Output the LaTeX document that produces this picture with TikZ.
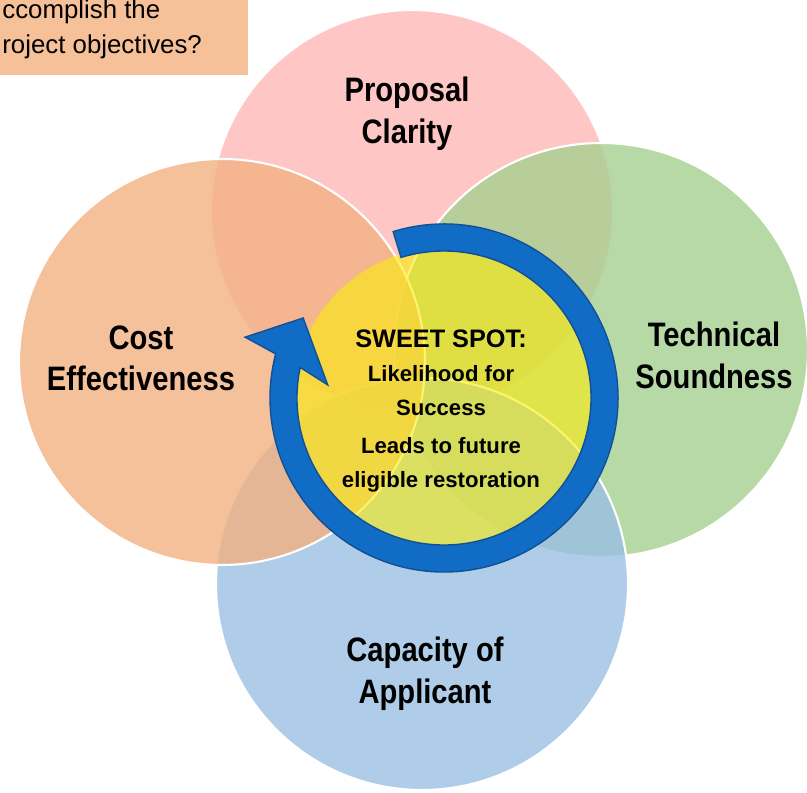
\documentclass[tikz,border=0pt]{standalone}
\usepackage{fontspec}
\setmainfont{Liberation Sans}
\newfontfamily\narrowsans{Liberation Sans}[FakeStretch=0.86]
\usepackage{tikz}
\definecolor{clarityfill}{RGB}{255,184,184}
\definecolor{techfill}{RGB}{165,207,144}
\definecolor{capacityfill}{RGB}{155,192,228}
\definecolor{costfill}{RGB}{242,177,130}
\definecolor{questionfill}{RGB}{246,192,152}
\definecolor{sweetfill}{RGB}{250,237,10}
\definecolor{cycleblue}{RGB}{16,108,196}
\definecolor{cycleedge}{RGB}{18,80,150}

\begin{document}
\begin{tikzpicture}[x=0.02cm, y=0.02cm,
    venn/.style={fill opacity=0.8, draw=white, line width=1.2pt},
    bigLabel/.style={align=center, inner sep=0pt, anchor=north,
        font=\narrowsans\bfseries\fontsize{19.3}{23.8}\selectfont}]
    \useasboundingbox (0,0) rectangle (807,793);

    % question box, cut at the left
    \fill[questionfill] (0,718) rectangle (248,793);
    \node[anchor=north west, align=left, inner sep=0pt,
          font=\fontsize{14.7}{19.9}\selectfont] (question) at (2,794)
        {ccomplish the\\roject objectives?};

    % the four circles
    \filldraw[venn, fill=clarityfill] (412,582) circle[radius=201];
    \filldraw[venn, fill=techfill] (601,443) circle[radius=207];
    \filldraw[venn, fill=capacityfill] (422,209) circle[radius=206];
    \filldraw[venn, fill=costfill] (222,431) circle[radius=203];

    % sweet spot and the cycle arrow round it
    \fill[sweetfill, fill opacity=0.6] (444,395) circle[radius=150];
    \begin{scope}[shift={(444,395)}]
        \draw[fill=cycleblue, draw=cycleedge, line width=0.8pt, line join=miter]
            (107:174) arc[start angle=107, end angle=-194.7, radius=174]
            -- (163:208) -- (150.4:162) -- (173.6:117) -- (-192:147)
            arc[start angle=-192, end angle=107, radius=147] -- cycle;
    \end{scope}

    \node[bigLabel] (clarity) at (407,716) {Proposal\\Clarity};
    \node[bigLabel] (technical) at (714,471) {Technical\\Soundness};
    \node[bigLabel] (cost) at (141,468) {Cost\\Effectiveness};
    \node[bigLabel] (capacity) at (425,156) {Capacity of\\Applicant};
    \node[align=center, inner sep=0pt, anchor=north,
          font=\bfseries\fontsize{12.6}{19.5}\selectfont] (sweetspot) at (441,464)
        {{\fontsize{14.4}{19.5}\selectfont SWEET SPOT:}\\Likelihood for\\Success\\[2pt]Leads to future\\eligible restoration};
\end{tikzpicture}
\end{document}
